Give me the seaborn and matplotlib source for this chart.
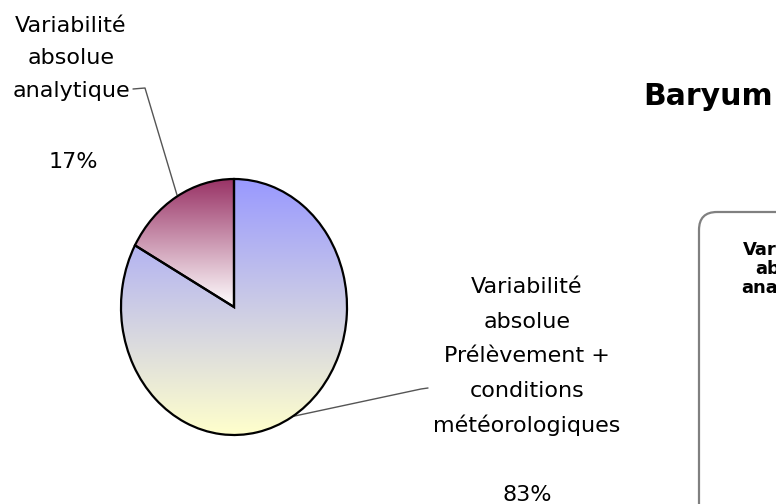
import numpy as np
import matplotlib
matplotlib.use("Agg")
import matplotlib.pyplot as plt
from matplotlib.patches import FancyBboxPatch
import seaborn as sns

# ---- data ----
title = "Baryum"
label_lines = [
    ["Variabilité", "absolue", "Prélèvement +", "conditions", "météorologiques"],
    ["Variabilité", "absolue", "analytique"],
]
categories = [" ".join(l) for l in label_lines]
values = [83, 17]
pct_labels = ["83%", "17%"]
legend_lines = ["Variabilité", "absolue", "analytique"]
grad_colors = [["#9999FF", "#FFFFCC"], ["#993366", "#FFFFFF"]]

sns.set_theme(style="white")
plt.rcParams["font.family"] = ["DejaVu Sans"]

W, H = 776, 504
fig = plt.figure(figsize=(W / 100, H / 100), dpi=100)
fig.patch.set_facecolor("white")

# overlay axes in pixel coordinates
ax0 = fig.add_axes([0, 0, 1, 1])
ax0.set_xlim(0, W)
ax0.set_ylim(H, 0)
ax0.axis("off")

# pie axes (elliptical pie)
px0, px1, py0, py1 = 121, 347, 179, 435
pax = fig.add_axes([px0 / W, (H - py1) / H, (px1 - px0) / W, (py1 - py0) / H])
wedges, _ = pax.pie(values, startangle=90, counterclock=False, radius=1,
                    wedgeprops=dict(facecolor="none", edgecolor="black", linewidth=1.6))
pax.set_aspect("auto")
pax.set_xlim(-1, 1)
pax.set_ylim(-1, 1)
pax.axis("off")

for w, cols in zip(wedges, grad_colors):
    cmap = sns.blend_palette(cols, n_colors=256, as_cmap=True)
    th1, th2 = np.deg2rad(w.theta1), np.deg2rad(w.theta2)
    ang = np.linspace(th1, th2, 100)
    xs = np.concatenate([[0], np.cos(ang)])
    ys = np.concatenate([[0], np.sin(ang)])
    ext = (xs.min(), xs.max(), ys.min(), ys.max())
    grad = np.linspace(0, 1, 256).reshape(-1, 1)
    im = pax.imshow(grad, cmap=cmap, aspect="auto", extent=ext, origin="upper",
                    zorder=0.5, interpolation="bilinear")
    im.set_clip_path(w)
    w.set_zorder(2)

# texts
fs = 16
# small-slice label (top-left)
for i, line in enumerate(label_lines[1]):
    ax0.text(71, 32 + 32.5 * i, line, ha="center", va="baseline", fontsize=fs, color="black")
ax0.text(73, 168, pct_labels[1], ha="center", va="baseline", fontsize=fs, color="black")
# large-slice label
for i, line in enumerate(label_lines[0]):
    ax0.text(527, 293 + 34.7 * i, line, ha="center", va="baseline", fontsize=fs, color="black")
ax0.text(527, 501, pct_labels[0], ha="center", va="baseline", fontsize=fs, color="black")

# leader lines
ax0.plot([133, 145, 177], [89, 88, 195], color="#555555", lw=1.0)
ax0.plot([290, 421, 428], [417, 389, 388], color="#555555", lw=1.0)

# title
ax0.text(708, 105, title, ha="center", va="baseline", fontsize=21.5,
         fontweight="bold", color="black")

# legend box (partly outside the canvas)
box = FancyBboxPatch((699, 212), 200, 400,
                     boxstyle="round,pad=0,rounding_size=18",
                     facecolor="none", edgecolor="#808080", lw=1.6)
ax0.add_patch(box)
for i, line in enumerate(legend_lines):
    ax0.text(795, 255 + 19 * i, line, ha="center", va="baseline", fontsize=13,
             fontweight="bold", color="black")

fig.savefig("out.png", dpi=100)
